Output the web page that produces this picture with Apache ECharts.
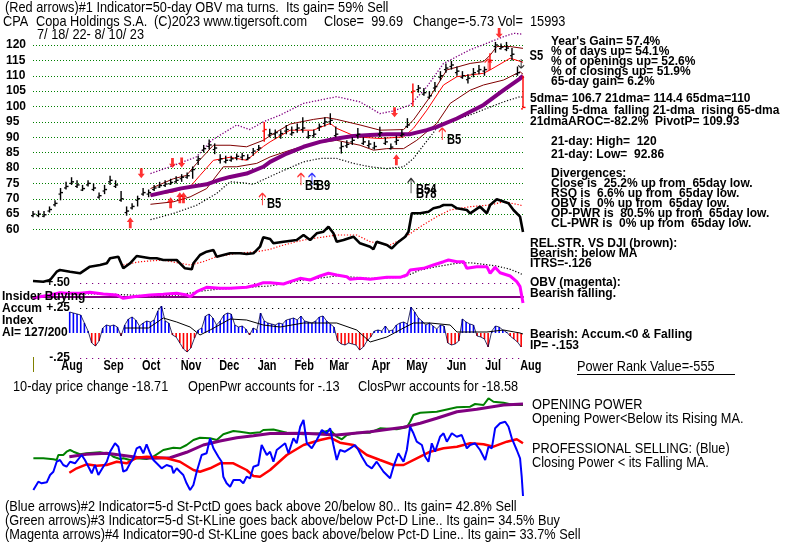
<!DOCTYPE html>
<html><head><meta charset="utf-8">
<script src="https://cdn.jsdelivr.net/npm/echarts@6/dist/echarts.min.js"></script>
<style>html,body{margin:0;padding:0;background:#fff}#c{width:800px;height:546px}</style>
</head><body><div id="c"></div>
<script>
// ================= DATA =================
// price bars every 3 trading days (day index 0 = 7/18/22 ... 267 = 8/10/23)
const barStep = 3;
const closes = [65,65,64.8,66.5,68.5,72,74,75.5,74.5,73.3,75,73.5,71,73,76,74.5,70,66,67.5,70,72,72,73.5,74.3,74.8,75.3,76,77,77.5,79.5,83,86.3,87.5,86.5,83,82.5,83,83.8,84,83.3,85.5,86.5,92.5,91.2,91.5,91.2,92.5,91.5,93,93,90.5,91,93.5,95,95.5,91,87,87.7,89,91,88.5,87.8,87,91.5,88.5,86.8,89,91,94,105,106,104.5,103.5,106.5,110,112.5,113.5,111.5,110,109.2,111,112,112,115,120,119.3,119,117,111,99.7];
const highs = [66,66.2,66,67.5,69.5,73.5,75.5,77,76,74.5,76,75,72,74.5,77.5,76,72.5,67.5,68.5,71,73.5,73,74.5,75.5,76,76.5,77.3,78,78.5,80.5,84,87.5,89.3,88,84.5,84,84,84.7,85,84.5,86.5,87.5,95,92.8,92.5,92.3,94,93.5,94.5,96.5,92,92.5,94.5,96.5,97.8,93.5,88.5,89,90,93,90,89,88.5,93.4,90,88,90.5,92.5,96.2,107.5,107,106,105,108,111.5,114,114.8,113,111.5,110.5,112.5,113.5,113,117.3,121,120.5,121,119,113,110];
const lows = [64,64,64,65.5,67.5,69.5,73,74.5,73.5,72.5,74,72.5,70,71.5,74.5,73.5,69,64.5,66.5,67.5,71,70.5,72.5,73.5,73.8,74.5,75,75.5,76.5,76.5,81,85,86,84.5,81.5,81.5,82,82.5,82.5,82.5,84,85.5,88.5,90,89.5,89.5,91,90.5,91.5,91.5,89.5,89.8,92,93.5,94,90,84.7,86.5,87.5,89.5,87.5,86.5,86,90,87.5,86,87.5,90,93,100,104.5,103.5,102.5,105,108.5,111,112,110,109,107.5,109.5,110.5,110,111.9,117.5,118.5,118,115,110,99.5];
const redBarDays = [126, 207, 249, 267];

// moving averages / bands on price  [day, price]
const ma21 = [[64,71.1],[76.5,72.2],[85.6,73.9],[91,77.6],[98.3,82.5],[107.4,83.5],[116.4,82.5],[125.5,87],[129.2,88.5],[140.1,92.3],[152.8,92.3],[161.9,94.5],[165.5,92.9],[176.4,90.1],[189.1,89.6],[201.9,90.1],[207.3,92.9],[214.6,98.8],[223.7,107],[231,109.7],[245.5,110.8],[249.1,111.9],[260,115.7],[267,114.4]];
const band21Up = [[64,73.3],[76.5,76.5],[83.7,77.6],[89,81.4],[98.3,87.4],[107.4,87.4],[116.4,86.9],[125.5,89],[129.2,90.5],[140.1,94.3],[152.8,95.8],[160,96.4],[165.5,95.8],[178.2,94],[189.1,92.3],[201.9,92.5],[207.3,95.6],[216.4,103.2],[225.5,111.9],[238.2,114],[245.5,114.6],[249.1,116.7],[252.7,119.5],[260,119.5],[267,118.9]];
const band21Dn = [[64,68.2],[76.5,69],[85.6,70.6],[94.6,73.3],[103.7,80.4],[111,80.4],[121.9,81.5],[129.2,83.6],[140.1,85.8],[152.8,88],[165.5,89],[178.2,87.4],[185.5,85.8],[192.8,86.3],[201.9,86.3],[209.1,89],[220,94.5],[227.3,101],[238.2,105.3],[245.5,107],[256.4,108.6],[265.4,111.3],[267,110.5]];
const ma65 = [[64,71.1],[80,73.3],[94.6,74.7],[101.9,76.2],[107.4,77.1],[116.4,78.2],[125.5,80.4],[129.2,82],[138.3,84.7],[147.4,86.9],[156.4,88.5],[165.5,89.6],[174.6,90.4],[183.7,90.7],[192.8,91],[205.5,91],[214.6,92.3],[220,93.4],[231,96.1],[245.5,100.5],[256.4,105.3],[265.4,109.1],[267,110]];
const bandUpper = [[64,78.2],[74.7,80.4],[89,83.6],[97.4,89],[111,94],[118,92.5],[125.5,95],[134.6,97.2],[147.4,101],[165.5,103.2],[178.2,101.5],[189,97.7],[196,98.5],[205.5,100.5],[214.6,106.4],[223.7,114],[238,118.4],[256.4,122.7],[262,123.8],[267,123.5]];
const bandLower = [[64,63.2],[76.5,65.2],[89.2,67.9],[100,71.7],[107.4,75.5],[114.6,75.2],[120,74.7],[125.5,76.2],[134.6,78.7],[147.4,82],[156.4,83.1],[165.5,83.1],[174.6,81.5],[183.7,80.4],[192.8,79.8],[201.9,80.4],[207.3,83.1],[212.8,87.4],[220,92.9],[229,95.6],[238,97.2],[247.3,99.4],[256.4,101.5],[265.4,103.2],[267,103]];

// signals
const bigUpArrows = [[53,64.0],[75,70.5],[80,72.1],[82,72.1],[198,84.5]];
const bigDownArrows = [[59,76.7],[76,80.0],[81,80.2],[197,96.5],[254,122.3]];
const thinUpRed = [[125,71.8],[146,78.3],[223,93.0],[248,115.5]];
const thinUpBlue = [[152,78.3]];
const thinUpBlack = [[206,76.7]];
const thinDownBlack = [[266,112.5]];
const signalLabels = [[127.5,68.2,'B5'],[148.2,74.1,'B5'],[154.2,74.1,'B9'],[208.7,72.8,'B54'],[208.7,71.6,'B78'],[225.6,89,'B5'],[270.5,116.4,'S5']];

// relative strength vs DJI (relative units) and its MA
const relStr = [[0,19],[5.6,18.3],[9.3,20],[12.9,28.3],[14.7,30],[20.2,28.3],[25.6,26.7],[31,33.3],[36.5,35],[40.2,36.7],[42,41.7],[46.5,43.3],[49.2,31.7],[52.9,36.7],[56.5,44],[63.8,41.7],[67.4,41.7],[71,40],[78.3,40],[82.8,31.7],[86.5,30.7],[87.4,36.7],[91,45],[94.6,48.3],[98.3,50],[100.1,43.3],[103.7,45],[107.4,46.7],[112.8,46.7],[116.4,46],[120.1,46.7],[123.7,53.3],[125.5,62.7],[129.2,61],[131,56.7],[136.5,58.3],[143.7,60],[147.4,65],[151,60],[154.6,66.7],[158.3,68.3],[161,73.3],[163.7,66.7],[165.5,58.3],[169.2,60],[174.6,63.3],[178.2,56.7],[183.7,53.3],[185.5,50.7],[187.3,58.3],[192.8,55],[195.5,51.7],[198.2,56.7],[202.8,63.3],[204.6,68.3],[206.4,86.7],[211,86.7],[215.5,88.3],[218.2,91.7],[221.8,93.3],[223.7,95],[228.2,95],[231,91.7],[236.4,90],[238.2,86.7],[243.6,93.3],[247.3,86.7],[249.1,95],[252.7,100.7],[259.1,96.7],[261.8,90],[265.4,83.3],[267,68]];
const relStrMA = [[49.2,35],[58.3,38.3],[71,40],[80,36.7],[85.6,35],[92.8,38.3],[100,43.3],[111,46.7],[121.9,48.3],[129.2,50.7],[134.6,54],[147.4,60],[165.5,65],[176.4,65],[183.7,58.3],[194.6,55],[201.9,61.7],[211,73.3],[220,83.3],[227.3,90],[238.2,93.3],[249.1,95],[256.4,98.3],[265.4,95],[267,94]];

// OBV (relative units) and its MA
const obv = [[0,1.7],[3.8,3.3],[9.3,5],[14.7,7.3],[18.4,6.7],[25.6,6.7],[31,7.7],[38.3,6],[45.6,5],[49.2,1.7],[54.7,3.3],[63.8,5],[71,5.7],[78.3,6.7],[83.7,5],[85.6,3.3],[89.2,8.3],[94.6,12.7],[102,11.7],[107.4,11.7],[116.4,12.7],[121.9,15],[125.5,17.3],[129.2,17.3],[136.5,16],[140.1,18.3],[145.6,21.7],[151,20],[156.4,24],[161,26.7],[165.5,25],[171,23.3],[172.8,20.7],[178.2,21.7],[183.7,20.7],[192.8,22.7],[200,22.7],[203.7,25],[205.5,30],[212.8,31.7],[218.2,35],[223.7,38.3],[226.4,40],[231,38.3],[234.6,38.3],[236.4,31.7],[241.8,33.3],[247.3,33.3],[249.1,26.7],[251.8,32.7],[254.5,27.3],[260,24],[263.6,18.3],[265.4,13.3],[267,-3]];
const obvMA = [[25,6],[40,6],[52.9,5],[63.8,4],[80,5],[89.2,8.3],[100,10.7],[111,11.7],[121.9,13.3],[129.2,14],[147.4,20],[165.5,24],[183.7,21.7],[201.9,22.7],[211,30],[220,33.3],[231,36.7],[238.2,37.3],[252.7,34],[260,30.7],[265.4,26.7],[267,25]];

// accumulation index, every 2 days from day 20
const accumStart = 20, accumStep = 2;
const accumValues = [0.21,0.20,0.19,0.18,0.10,0.02,-0.10,-0.13,-0.08,0.05,0.08,0.07,0.08,0.06,-0.03,0.08,0.14,0.16,0.13,0.07,0.10,0.12,0.11,0.13,0.22,0.27,0.12,0.10,-0.02,-0.04,-0.10,-0.16,-0.19,-0.15,-0.05,0.03,0.05,0.17,0.19,0.15,0.08,0.12,0.18,0.20,0.19,0.08,0.06,0.07,0.04,-0.02,0.05,0.03,0.20,0.12,0.10,0.09,0.08,0.10,0.09,0.13,0.14,0.15,0.13,0.17,0.12,0.11,0.10,0.12,0.16,0.17,0.12,0.09,0.06,-0.08,-0.11,-0.12,-0.10,-0.11,-0.12,-0.17,-0.14,-0.08,-0.04,0.02,0.03,0.02,0.07,0.02,0.03,0.08,0.10,0.11,0.09,0.26,0.21,0.15,0.12,0.08,0.10,0.07,0.04,0.08,0.07,-0.10,-0.12,-0.11,-0.08,0.14,0.11,0.09,0.08,-0.03,-0.04,-0.06,-0.14,0.02,0.07,0.06,0.03,0.01,-0.03,-0.06,-0.09,-0.14];
const accumMA = [[50,0.05],[62.9,0.05],[71,0.15],[78.3,0.11],[85.6,0.06],[91,-0.02],[96.5,0.03],[107.4,0.14],[116.4,0.13],[125.5,0.08],[134.6,0.06],[147.4,0.1],[165.5,0.1],[176.4,0.03],[183.7,-0.09],[192.8,-0.04],[201.9,0.05],[207.3,0.1],[216.4,0.1],[227.3,0.08],[231,0.01],[247.3,0.01],[256.4,0.03],[265.4,0],[267,-0.01]];

// opening / closing power (relative units)
const closingPower = [[0.2,10],[2.9,18.3],[4.7,16.7],[7.5,17.7],[9.3,25],[11.1,28.3],[12.9,38.3],[14.7,40],[16.5,35],[18.3,33.3],[20.2,38.3],[22.9,36.7],[26.5,45],[28.3,40],[30.2,33.3],[32,26.7],[33.8,35],[35.6,25],[38.3,33.3],[40.2,38.3],[42,48.3],[44.7,56.7],[46.5,53.3],[48.3,36.7],[49.2,28.3],[51,30],[52.9,36.7],[54.7,41.7],[56.5,51.7],[58.3,53.3],[60.1,46.7],[61.9,55.7],[63.8,46.7],[65.6,40],[67.4,36.7],[70.1,31.7],[72.8,35],[75.6,33.3],[76.5,26.7],[78.3,31.7],[80.1,28.3],[81.9,25],[83.7,16.7],[85.6,10],[87.4,15],[89.2,28.3],[91.9,45],[94.6,46.7],[96.5,61.7],[98.3,51.7],[101,43.3],[102.8,38.3],[103.7,23.3],[105.5,16.7],[107.4,13.3],[109.2,20],[112.8,20],[114.6,16.7],[116.4,23.3],[118.3,21.7],[120.1,33.3],[122.8,35],[124.6,55],[127.4,45],[129.2,48.3],[131,38.3],[132.8,50],[137.4,56.7],[139.2,46.7],[141.9,61.7],[143.7,56.7],[145.6,73.3],[147.4,80],[149.2,56.7],[151.9,51.7],[154.6,60],[157.4,70],[160.1,66.7],[161.9,71.7],[163.7,55],[165.5,40],[167.3,50],[170,48.3],[172.8,51.7],[175.5,55],[177.3,50],[179.2,43.3],[181.9,35],[184.6,31.7],[187.3,38.3],[191,28.3],[194.6,21.7],[196.4,33.3],[199.1,46.7],[201.9,38.3],[203.7,50],[205.5,73.3],[207.3,66.7],[209.1,58.3],[211.9,55],[213.7,43.3],[215.5,38.3],[217.3,56.7],[219.1,48.3],[221.8,63.3],[223.7,66.7],[225.5,58.3],[228.2,66.7],[230.9,63.3],[233.6,65],[236.4,51.7],[238.2,55],[240.9,56.7],[243.6,50],[246.4,40],[248.2,53.3],[250,51.7],[251.8,71.7],[254.5,76.7],[257.3,78.3],[259.1,73.3],[260.9,61.7],[263.6,50],[265.4,41.7],[266.3,23.3],[267,4]];
const closingPowerMA = [[19.8,27.3],[23.8,31.7],[29.2,35.7],[34.7,34.3],[40.1,35],[45.6,38.3],[51,36.7],[56.5,42.3],[61.9,43.3],[67.4,42.7],[72.8,41.7],[80.1,38.3],[87.4,30],[91,28.3],[96.5,31.7],[101.9,36.7],[109.2,36.7],[116.4,30],[120.1,24],[123.7,23.3],[129.2,30],[138.3,45],[147.4,55],[156.4,60],[161.9,62.3],[167.3,57.3],[174.6,55],[181.9,45],[189.1,40],[196.4,35],[201.9,35],[209.1,41.7],[216.4,48.3],[223.7,51.7],[231,53.3],[238.2,56.7],[245.5,55.7],[250.9,53.3],[258.2,58.3],[263.6,60.7],[267,56.7]];
const openingPower = [[0.2,41.7],[5.6,41.7],[11.1,40.7],[12.9,40],[13.8,45],[16.5,45],[18.3,48.3],[20.2,50],[22,48.3],[25.6,45.7],[29.3,46.7],[36.5,47.7],[42,45.7],[43.8,43.3],[47.4,41],[49.2,41.7],[52.9,40],[56.5,41.7],[61.9,41],[65.6,43.3],[71,50],[76.5,52.3],[80.1,51.7],[83.7,55],[87.4,60],[91,62.3],[96.5,61.7],[100.1,60],[103.7,65.7],[109.2,69],[112.8,68.3],[118.3,66.7],[123.7,67.7],[125.5,70],[131,70.5],[138.3,67.3],[147.4,65.7],[156.4,66.7],[161.9,70],[165.5,63.3],[168.3,60.7],[171,65],[176.4,67.3],[183.7,67.3],[189.1,71.7],[198.2,70.7],[203.7,72.7],[205.5,78.3],[207.3,85],[211,87.3],[220,88.3],[231,92.7],[238.2,93.3],[240.9,96],[245.5,95],[248.2,101.7],[250.9,98.3],[256.4,97.3],[261.8,95],[267,95]];
const openingPowerMA = [[19.8,43.3],[29.2,45.7],[40.1,46.7],[47.4,45],[56.5,42.7],[65.6,41.7],[74.7,42.3],[83.7,47.7],[92.8,55],[101.9,59],[111,62.3],[120.1,64.3],[129.2,66.5],[147.4,66.7],[165.5,65],[183.7,68.3],[201.9,72.7],[211,76.7],[220,81.7],[231,88.3],[241.8,90.7],[256.4,95],[267,96]];

// axis labels
const monthNames = ['Aug','Sep','Oct','Nov','Dec','Jan','Feb','Mar','Apr','May','Jun','Jul','Aug'];
const monthStartDays = [10,33,54,75,96,117,137,156,179,198,220,241,260];

// texts
const headerLine1 = '(Red arrows)#1 Indicator=50-day OBV ma turns.  Its gain= 59% Sell';
const headerLine2 = ['CPA', 'Copa Holdings S.A.', '(C)2023 www.tigersoft.com', 'Close=  99.69', 'Change=-5.73 Vol=  15993'];
const dateRange = '7/ 18/ 22- 8/ 10/ 23';
const statsLines = ["Year's Gain= 57.4%", '% of days up= 54.1%', '% of openings up= 52.6%', '% of closings up= 51.9%', '65-day gain= 6.2%'];
const maLines = ['5dma= 106.7 21dma= 114.4 65dma=110', 'Falling 5-dma  falling 21-dma  rising 65-dma', '21dmaAROC=-82.2%  PivotP= 109.93'];
const rangeLines = ['21-day: High=  120', '21-day: Low=  92.86'];
const divergenceLines = ['Divergences:', 'Close is  25.2% up from  65day low.', 'RSQ is  6.6% up from  65day low.', 'OBV is  0% up from  65day low.', 'OP-PWR is  80.5% up from  65day low.', 'CL-PWR is  0% up from  65day low.'];
const rsLines = ['REL.STR. VS DJI (brown):', 'Bearish: below MA', 'ITRS=-.126'];
const obvLines = ['OBV (magenta):', 'Bearish falling.'];
const accumLines = ['Bearish: Accum.<0 & Falling', 'IP= -.153'];
const leftLabels = ['Insider Buying', 'Accum', 'Index', 'AI= 127/200'];
const powerRank = 'Power Rank Value=-555';
const changeLine = ['10-day price change -18.71', 'OpenPwr accounts for -.13', 'ClosPwr accounts for -18.58'];
const powerLines = ['OPENING POWER', 'Opening Power<Below its Rising MA.', 'PROFESSIONAL SELLING: (Blue)', 'Closing Power < its Falling MA.'];
const footerLines = ['(Blue arrows)#2 Indicator=5-d St-PctD goes back above 20/below 80.. Its gain= 42.8% Sell', '(Green arrows)#3 Indicator=5-d St-KLine goes back above/below Pct-D Line.. Its gain= 34.5% Buy', '(Magenta arrows)#4 Indicator=90-d St-KLine goes back above/below Pct-D Line.. Its gain= 33.7% Sell'];

// ================= CHART =================
const FB = "'Liberation Sans',Arial,sans-serif";
const fNormal = '15px ' + FB;        // drawn condensed (scaleX)
const NARROW = 0.85;
const fBold = 'bold 12px ' + FB;
const fMonth = 'bold 14px ' + FB;
const fSig = 'bold 14px ' + FB;

const chart = echarts.init(document.getElementById('c'), null, {renderer: 'canvas'});
const L = 33, W = 490, LASTDAY = 267;

function T(x, y, text, font, sx, fill) {
  return {type: 'text', x: x, y: y, scaleX: sx || 1, scaleY: 1, silent: true, z: 50,
    style: {text: text, font: font || fNormal, fill: fill || '#000', verticalAlign: 'middle', textVerticalAlign: 'middle'}};
}
const N = (x, y, s) => T(x, y, s, fNormal, NARROW);

const hiddenX = (g, max) => ({gridIndex: g, type: 'value', min: 0, max: max || LASTDAY, show: false});
const hiddenY = (g, min, max) => ({gridIndex: g, type: 'value', min: min, max: max, show: false, splitLine: {show: false}});

const lineS = (g, data, color, width, dash, z) => ({
  type: 'line', xAxisIndex: g, yAxisIndex: g, data: data, showSymbol: false, symbol: 'none', clip: false,
  lineStyle: {color: color, width: width, type: dash || 'solid'}, z: z || 3, silent: true
});

const priceBars = closes.map((c, k) => [k * barStep, lows[k], highs[k], c, redBarDays.indexOf(k * barStep) >= 0 ? 1 : 0]);
const accumData = accumValues.map((v, k) => ({value: [accumStart + k * accumStep, v], itemStyle: {color: v >= 0 ? '#0000ff' : '#ff0000'}}));
const accumOutline = accumValues.map((v, k) => [accumStart + k * accumStep, v]);

const upFat = 'path://M5,0 L10,6 L7,6 L7,14 L3,14 L3,6 L0,6 Z';
const downFat = 'path://M3,0 L7,0 L7,8 L10,8 L5,14 L0,8 L3,8 Z';
const upThin = 'path://M5,0 L1,5 M5,0 L9,5 M5,0 L5,16';
const downThin = 'path://M5,16 L1,11 M5,16 L9,11 M5,16 L5,0';
const arrowS = (data, sym, size, offset, fill, stroke) => ({
  type: 'scatter', xAxisIndex: 0, yAxisIndex: 0, data: data, symbol: sym, symbolSize: size, symbolOffset: offset,
  clip: false, silent: true, z: 6,
  itemStyle: {color: fill, borderColor: stroke || fill, borderWidth: stroke ? 1.2 : 0}
});

const option = {
  animation: false,
  backgroundColor: '#ffffff',
  grid: [
    {left: L, width: W, top: 45, height: 184.5},
    {left: L, width: W, top: 180, height: 120},
    {left: L, width: W, top: 247, height: 50},
    {left: L, width: W, top: 283, height: 75},
    {left: 80, width: L + W - 80, top: 283, height: 75},
    {left: L, width: W, top: 395, height: 105}
  ],
  xAxis: [
    hiddenX(0), hiddenX(1),
    {gridIndex: 2, type: 'value', min: 0, max: LASTDAY, axisLine: {show: true, onZero: false, lineStyle: {color: '#800080', width: 2}}, axisTick: {show: false}, axisLabel: {show: false}, splitLine: {show: false}},
    hiddenX(3), hiddenX(4, 1), hiddenX(5)
  ],
  yAxis: [
    {gridIndex: 0, type: 'value', min: 60, max: 120, interval: 5, axisLine: {show: false}, axisTick: {show: false},
      axisLabel: {align: 'left', margin: 27, color: '#000', fontFamily: FB, fontWeight: 'bold', fontSize: 12},
      splitLine: {show: true, lineStyle: {color: '#008000', width: 1, type: [1, 2]}}},
    hiddenY(1, 0, 120),
    hiddenY(2, 3, 53),
    hiddenY(3, -0.25, 0.5),
    {gridIndex: 4, type: 'value', min: -0.25, max: 0.5, interval: 0.25, axisLine: {show: false}, axisTick: {show: false},
      axisLabel: {margin: 10, color: '#000', fontFamily: FB, fontWeight: 'bold', fontSize: 12,
        formatter: v => (v === 0.5 ? '+.50' : v === 0.25 ? '+.25' : v === -0.25 ? '-.25' : '')},
      splitLine: {show: true, lineStyle: {color: ['#800080', 'rgba(0,0,0,0)', '#000000', '#800080'], width: 1.2, type: [1.2, 4.8]}}},
    hiddenY(5, 0, 105)
  ],
  series: [
    // price panel
    lineS(0, bandLower, '#000000', 1.2, [1.2, 1.8], 2),
    lineS(0, bandUpper, '#800080', 1.3, [1.3, 1.7], 2),
    lineS(0, band21Up, '#800000', 1, 'solid', 2),
    lineS(0, band21Dn, '#800000', 1, 'solid', 2),
    lineS(0, ma21, '#ff0000', 1, 'solid', 2),
    lineS(0, ma65, '#800080', 4, 'solid', 3),
    {
      type: 'custom', xAxisIndex: 0, yAxisIndex: 0, data: priceBars, z: 4, silent: true, clip: false,
      renderItem: function (params, api) {
        const x = api.value(0);
        const pLo = api.coord([x, api.value(1)]);
        const pHi = api.coord([x, api.value(2)]);
        const pCl = api.coord([x, api.value(3)]);
        const col = api.value(4) ? '#ff0000' : '#000000';
        return {type: 'group', children: [
          {type: 'line', shape: {x1: pLo[0], y1: pLo[1], x2: pHi[0], y2: pHi[1]}, style: {stroke: col, lineWidth: 1.4}},
          {type: 'line', shape: {x1: pCl[0], y1: pCl[1], x2: pCl[0] + 2.5, y2: pCl[1]}, style: {stroke: col, lineWidth: 1.4}},
          {type: 'line', shape: {x1: pCl[0] - 2, y1: pCl[1] + 1.5, x2: pCl[0], y2: pCl[1] + 1.5}, style: {stroke: col, lineWidth: 1.2}}
        ]};
      }
    },
    arrowS(bigUpArrows, upFat, [7, 11], [0, 5.5], '#ff0000'),
    arrowS(bigDownArrows, downFat, [7, 10], [0, -5], '#ff0000'),
    arrowS(thinUpRed, upThin, [7, 12], [0, 6], 'rgba(0,0,0,0)', '#ff0000'),
    arrowS(thinUpBlue, upThin, [7, 12], [0, 6], 'rgba(0,0,0,0)', '#0000ff'),
    arrowS(thinUpBlack, upThin, [7, 15], [0, 7.5], 'rgba(0,0,0,0)', '#000000'),
    arrowS(thinDownBlack, downThin, [6, 9], [0, -4.5], 'rgba(0,0,0,0)', '#000000'),
    // relative strength
    lineS(1, relStrMA, '#ff0000', 1.2, [1.2, 1.8], 3),
    lineS(1, relStr, '#000000', 2.6, 'solid', 4),
    // OBV
    lineS(2, obvMA, '#000000', 1.2, [1.2, 1.8], 3),
    lineS(2, obv, '#ff00ff', 3, 'solid', 4),
    // accumulation index
    {type: 'bar', xAxisIndex: 3, yAxisIndex: 3, data: accumData, barWidth: 1.6, silent: true, z: 3},
    lineS(3, accumOutline, '#000040', 0.8, 'solid', 4),
    lineS(3, accumMA, '#000000', 1, 'solid', 5),
    // opening / closing power
    lineS(5, openingPower, '#008000', 2, 'solid', 3),
    lineS(5, openingPowerMA, '#800080', 3, 'solid', 4),
    lineS(5, closingPowerMA, '#ff0000', 2.5, 'solid', 4),
    lineS(5, closingPower, '#0000ff', 2, 'solid', 5)
  ]
};
chart.setOption(option);

// ---- text layer (positions of data-anchored labels come from the chart's own scales) ----
const graphics = [];
graphics.push(N(5, 8, headerLine1));
[3, 36, 154, 324, 413].forEach((x, i) => graphics.push(N(x, 22, headerLine2[i])));
graphics.push(N(37, 35, dateRange));
statsLines.forEach((s, i) => graphics.push(T(551, 42 + i * 10, s, fBold)));
maLines.forEach((s, i) => graphics.push(T(530, 99 + i * 11.5, s, fBold)));
rangeLines.forEach((s, i) => graphics.push(T(551, 142 + i * 13, s, fBold)));
divergenceLines.forEach((s, i) => graphics.push(T(551, 174 + i * 10, s, fBold)));
rsLines.forEach((s, i) => graphics.push(T(530, 244 + i * 10, s, fBold)));
obvLines.forEach((s, i) => graphics.push(T(530, 283 + i * 10.5, s, fBold)));
accumLines.forEach((s, i) => graphics.push(T(530, 335 + i * 11, s, fBold)));
leftLabels.forEach((s, i) => graphics.push(T(2, [297, 309, 321, 333][i], s, fBold)));
graphics.push(N(577, 367, powerRank));
graphics.push({type: 'line', silent: true, z: 50, shape: {x1: 577, y1: 374.5, x2: 735, y2: 374.5}, style: {stroke: '#000', lineWidth: 1}});
[13, 188, 358].forEach((x, i) => graphics.push(N(x, 387, changeLine[i])));
powerLines.forEach((s, i) => graphics.push(N(532, [405, 419, 449, 463][i], s)));
footerLines.forEach((s, i) => graphics.push(N(5, 507 + i * 14, s)));
graphics.push({type: 'line', silent: true, z: 50, shape: {x1: 33.5, y1: 357, x2: 33.5, y2: 372}, style: {stroke: '#808000', lineWidth: 1}});
// month labels placed through the accumulation panel's x scale
monthStartDays.forEach((d, i) => {
  const px = chart.convertToPixel({xAxisIndex: 3}, d);
  graphics.push(T(px + 10, 366, monthNames[i], fMonth, 0.78));
});
// signal labels placed through the price scales
signalLabels.forEach(s => {
  const p = chart.convertToPixel({xAxisIndex: 0, yAxisIndex: 0}, [s[0], s[1]]);
  graphics.push(T(p[0], p[1], s[2], fSig, 0.8));
});
chart.setOption({graphic: graphics});
</script>
</body></html>
